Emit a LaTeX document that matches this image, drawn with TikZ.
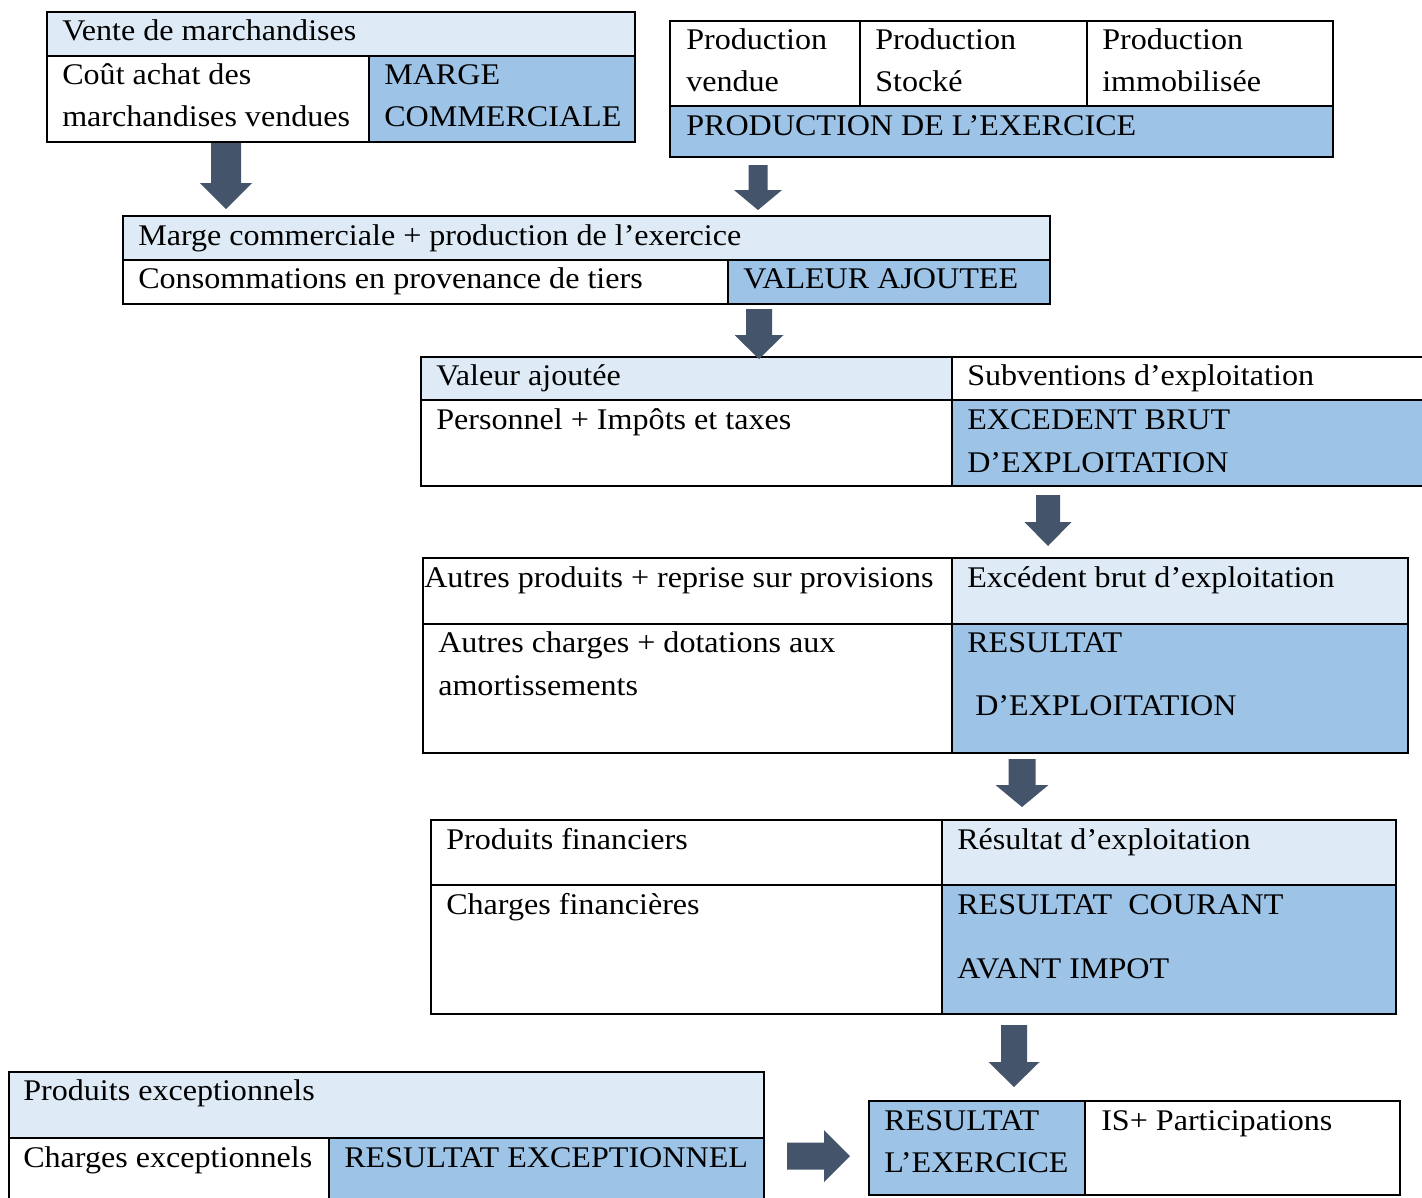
\documentclass[tikz,border=0pt]{standalone}
\usepackage{fontspec}
\setmainfont{Liberation Serif}[FakeStretch=1.07]
\usetikzlibrary{fit}
\definecolor{lightcell}{HTML}{DEEBF7}
\definecolor{midcell}{HTML}{9DC3E6}
\definecolor{slate}{HTML}{44546A}
% a table cell spanning two corners, given in pixel-like units
\newcommand\tabcell[4]{\node[cell,#4,fit={#2 #3}] (#1) {};}
% block arrow pointing down: centre x, shaft top, head start, tip, shaft half width, head half width
\newcommand\blockdown[6]{\fill[slate] (#1-#5,#2) -- (#1+#5,#2) -- (#1+#5,#3) -- (#1+#6,#3) -- (#1,#4) -- (#1-#6,#3) -- (#1-#5,#3) -- cycle;}
% block arrow pointing right: centre y, shaft left, head start, tip, shaft half width, head half width
\newcommand\blockright[6]{\fill[slate] (#2,#1-#5) -- (#2,#1+#5) -- (#3,#1+#5) -- (#3,#1+#6) -- (#4,#1) -- (#3,#1-#6) -- (#3,#1-#5) -- cycle;}
\begin{document}
\begin{tikzpicture}[x=0.75pt,y=-0.75pt,
  cell/.style={draw=black,line width=1.9pt,inner sep=0pt,fill=white},
  light/.style={fill=lightcell},
  mid/.style={fill=midcell},
  plain/.style={fill=white},
  txt/.style={anchor=base west,inner sep=0pt,font=\fontsize{22.5}{27}\selectfont}]
\useasboundingbox[fill=white] (0,0) rectangle (1422,1197);

% marge commerciale
\tabcell{mA}{(47,12)}{(635,56)}{light}
\tabcell{mB}{(47,56)}{(369,142)}{plain}
\tabcell{mC}{(369,56)}{(635,142)}{mid}
\node[txt] (mA1) at (62,40) {Vente de marchandises};
\node[txt] (mB1) at (62,84) {Coût achat des};
\node[txt] (mB2) at (62,126) {marchandises vendues};
\node[txt] (mC1) at (384,84) {MARGE};
\node[txt] (mC2) at (384,126) {COMMERCIALE};

% production de l'exercice
\tabcell{pA}{(670,21)}{(860,106)}{plain}
\tabcell{pB}{(860,21)}{(1087,106)}{plain}
\tabcell{pC}{(1087,21)}{(1333,106)}{plain}
\tabcell{pD}{(670,106)}{(1333,157)}{mid}
\node[txt] (pA1) at (686,49) {Production};
\node[txt] (pA2) at (686,91) {vendue};
\node[txt] (pB1) at (875,49) {Production};
\node[txt] (pB2) at (875,91) {Stocké};
\node[txt] (pC1) at (1102,49) {Production};
\node[txt] (pC2) at (1102,91) {immobilisée};
\node[txt] (pD1) at (686,135) {PRODUCTION DE L’EXERCICE};

% valeur ajoutee
\tabcell{vA}{(123,216)}{(1050,260)}{light}
\tabcell{vB}{(123,260)}{(728,304)}{plain}
\tabcell{vC}{(728,260)}{(1050,304)}{mid}
\node[txt] (vA1) at (138,245) {Marge commerciale + production de l’exercice};
\node[txt] (vB1) at (138,288) {Consommations en provenance de tiers};
\node[txt] (vC1) at (743,288) {VALEUR AJOUTEE};

% excedent brut d'exploitation
\tabcell{eA}{(421,357)}{(952,400)}{light}
\tabcell{eB}{(952,357)}{(1440,400)}{plain}
\tabcell{eC}{(421,400)}{(952,486)}{plain}
\tabcell{eD}{(952,400)}{(1440,486)}{mid}
\node[txt] (eA1) at (436,385) {Valeur ajoutée};
\node[txt] (eB1) at (967,385) {Subventions d’exploitation};
\node[txt] (eC1) at (436,429) {Personnel + Impôts et taxes};
\node[txt] (eD1) at (967,429) {EXCEDENT BRUT};
\node[txt] (eD2) at (967,472) {D’EXPLOITATION};

% resultat d'exploitation
\tabcell{rA}{(423,558)}{(952,624)}{plain}
\tabcell{rB}{(952,558)}{(1408,624)}{light}
\tabcell{rC}{(423,624)}{(952,753)}{plain}
\tabcell{rD}{(952,624)}{(1408,753)}{mid}
\node[txt] (rA1) at (424,587) {Autres produits + reprise sur provisions};
\node[txt] (rB1) at (967,587) {Excédent brut d’exploitation};
\node[txt] (rC1) at (438,652) {Autres charges + dotations aux};
\node[txt] (rC2) at (438,695) {amortissements};
\node[txt] (rD1) at (967,652) {RESULTAT};
\node[txt] (rD2) at (975,715) {D’EXPLOITATION};

% resultat courant avant impot
\tabcell{cA}{(431,820)}{(942,885)}{plain}
\tabcell{cB}{(942,820)}{(1396,885)}{light}
\tabcell{cC}{(431,885)}{(942,1014)}{plain}
\tabcell{cD}{(942,885)}{(1396,1014)}{mid}
\node[txt] (cA1) at (446,849) {Produits financiers};
\node[txt] (cB1) at (957,849) {Résultat d’exploitation};
\node[txt] (cC1) at (446,914) {Charges financières};
\node[txt] (cD1) at (957,914) {RESULTAT\ \ COURANT};
\node[txt] (cD2) at (957,978) {AVANT IMPOT};

% resultat exceptionnel
\tabcell{xA}{(9,1072)}{(764,1138)}{light}
\tabcell{xB}{(9,1138)}{(329,1215)}{plain}
\tabcell{xC}{(329,1138)}{(764,1215)}{mid}
\node[txt] (xA1) at (23,1100) {Produits exceptionnels};
\node[txt] (xB1) at (23,1167) {Charges exceptionnels};
\node[txt] (xC1) at (344,1167) {RESULTAT EXCEPTIONNEL};

% resultat de l'exercice
\tabcell{fA}{(869,1101)}{(1085,1195)}{mid}
\tabcell{fB}{(1085,1101)}{(1400,1195)}{plain}
\node[txt] (fA1) at (884,1130) {RESULTAT};
\node[txt] (fA2) at (884,1172) {L’EXERCICE};
\node[txt] (fB1) at (1101,1130) {IS+ Participations};

% block arrows between the tables
\blockdown{226}{143}{183}{209}{15}{26}
\blockdown{758}{165}{190}{210}{9.5}{24}
\blockdown{759}{309}{335}{359}{13}{24.5}
\blockdown{1048}{495}{522}{546}{12}{23.5}
\blockdown{1022}{759}{785}{807}{13.5}{26.5}
\blockdown{1014}{1025}{1062}{1087}{13}{25.5}
\blockright{1156}{787}{824}{850}{13.5}{26}
\end{tikzpicture}
\end{document}
